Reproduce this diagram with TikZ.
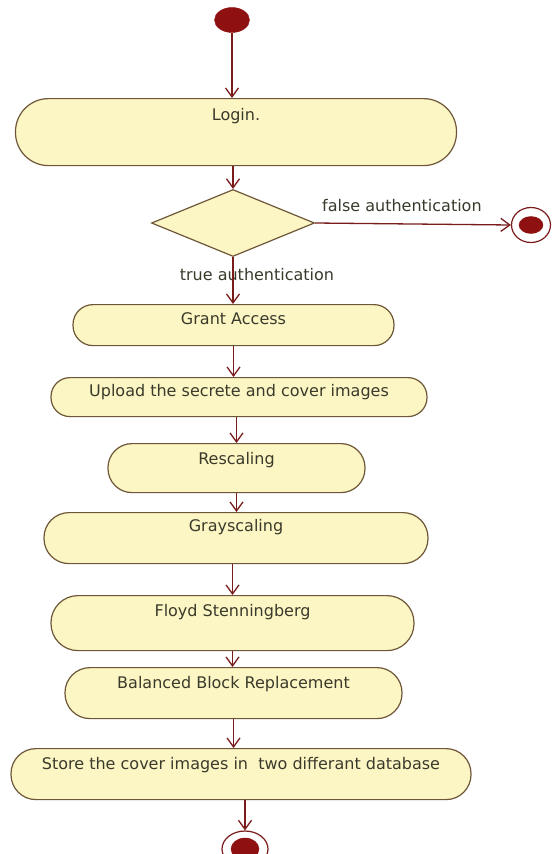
\documentclass[tikz,border=0pt]{standalone}
\usepackage{fontspec}
\setmainfont{DejaVu Sans}
\usetikzlibrary{arrows.meta,shapes.geometric}
\definecolor{nodefill}{HTML}{FCF6C4}
\definecolor{nodedraw}{HTML}{6E5638}
\definecolor{txt}{HTML}{3A3A2C}
\definecolor{flow}{HTML}{7A1C1C}
\definecolor{dotred}{HTML}{8E1010}
\begin{document}
\begin{tikzpicture}[x=1pt,y=-1pt,
  act/.style={draw=nodedraw, fill=nodefill, line width=1.2pt, rounded corners=#1,
    inner xsep=0pt, inner ysep=0pt, font=\fontsize{16}{18}\selectfont, text=txt, anchor=north},
  lbl/.style={font=\fontsize{16}{18}\selectfont, text=txt, inner sep=1pt},
  arr/.style={draw=flow, line width=1.3pt, -{Straight Barb[length=9pt,width=13pt]}},
  solid dot/.style={ellipse, fill=dotred, draw=dotred, inner sep=0pt},
  end ring/.style={ellipse, fill=white, draw=flow, line width=1.2pt, inner sep=0pt}]
\fill[white] (0,0) rectangle (555,854);
\useasboundingbox (0,0) rectangle (555,854);

% start
\node[solid dot, minimum width=35pt, minimum height=25pt] (start) at (232,20) {};

% activities
\node[act=33pt, minimum width=441pt, text height=22pt, text depth=45pt] (login) at (236,98) {Login.};
\node[diamond, draw=nodedraw, fill=nodefill, line width=1.2pt, minimum width=163pt, minimum height=67pt, inner sep=0pt] (dec) at (233,223) {};
\node[act=20pt, minimum width=321pt, text height=20pt, text depth=21pt] (grant) at (233.5,304) {Grant Access};
\node[act=19pt, minimum width=376pt, text height=19pt, text depth=20pt] (upload) at (239,377) {Upload the secrete and cover images};
\node[act=24pt, minimum width=257pt, text height=20.5pt, text depth=28.5pt] (rescale) at (236.5,443) {Rescaling};
\node[act=25pt, minimum width=384pt, text height=19pt, text depth=32pt] (gray) at (236,512) {Grayscaling};
\node[act=27pt, minimum width=363pt, text height=20.5pt, text depth=34.5pt] (floyd) at (232.5,595) {Floyd Stenningberg};
\node[act=25pt, minimum width=337pt, text height=21pt, text depth=30pt] (bbr) at (233.5,667) {Balanced Block Replacement};
\node[act=25pt, minimum width=460pt, text height=21pt, text depth=30pt] (store) at (241,748) {Store the cover images in\ \ two differant database};

% final states
\node[end ring, minimum width=39pt, minimum height=35pt] (endr) at (531,225) {};
\node[solid dot, minimum width=24pt, minimum height=17pt] (endrdot) at (531,225) {};
\node[end ring, minimum width=46pt, minimum height=36pt] (endb) at (245,849) {};
\node[solid dot, minimum width=28pt, minimum height=22pt] (endbdot) at (245,849) {};

% guard labels
\node[lbl, anchor=west] (flab) at (321,206) {false authentication};
\node[lbl] (tlab) at (257,275) {true authentication};

% flows
\draw[arr] (start.south) -- (start.south |- login.north);
\draw[arr] (dec.north |- login.south) -- (dec.north);
\draw[arr] (dec.east) -- (endr.west);
\draw[arr] (dec.south) -- (dec.south |- grant.north);
\draw[arr] (grant.south) -- (grant.south |- upload.north);
\draw[arr] (rescale.north |- upload.south) -- (rescale.north);
\draw[arr] (rescale.south) -- (rescale.south |- gray.north);
\draw[arr] (floyd.north |- gray.south) -- (floyd.north);
\draw[arr] (floyd.south) -- (floyd.south |- bbr.north);
\draw[arr] (bbr.south) -- (bbr.south |- store.north);
\draw[arr] (endb.north |- store.south) -- (endb.north);
\end{tikzpicture}
\end{document}
